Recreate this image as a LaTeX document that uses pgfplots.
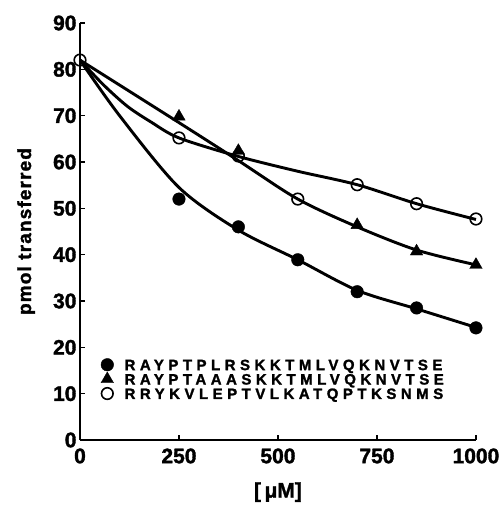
\documentclass[border=0pt]{standalone}
\usepackage{fontspec}
\setmainfont{Liberation Sans}[BoldFeatures={FakeBold=1.6}]
\usepackage{pgfplots}
\pgfplotsset{compat=1.18}
\begin{document}
\begin{tikzpicture}
\begin{axis}[
  scale only axis,
  width=396pt, height=417pt,
  xmin=0, xmax=1000, ymin=0, ymax=90,
  axis x line=bottom, axis y line=left,
  axis line style={-, line width=1.6pt},
  tick style={line width=1.4pt, black},
  tick align=inside, major tick length=5pt,
  xtick={0,250,500,750,1000}, ytick={0,10,...,90},
  ticklabel style={font=\fontsize{21}{21}\selectfont\bfseries},
  xticklabel style={yshift=-5pt},
  /pgf/number format/assume math mode=true,
  /pgf/number format/set thousands separator={},
  xlabel={[\,μM]},
  xlabel style={font=\fontsize{21}{21}\selectfont\bfseries,
    at={(axis description cs:0.5,-0.125)}, anchor=center},
  ylabel={pmol transferred},
  ylabel style={font=\fontsize{19}{19}\selectfont\bfseries\addfontfeature{LetterSpace=6},
    at={(axis description cs:-0.136,0.5)}, anchor=center},
  clip=false,
  legend cell align=left,
  legend style={at={(0.045,0.203)}, anchor=north west, draw=none, fill=none,
    font=\fontsize{15}{15}\selectfont\bfseries\addfontfeature{LetterSpace=30},
    nodes={text height=10.8pt, text depth=0pt, inner ysep=1.8pt},
    /tikz/every odd column/.append style={column sep=9pt}},
]
% fitted curves
\addplot[forget plot, smooth, line width=2.9pt] coordinates {
(0,82) (100,70) (250,54.5) (400,45.3) (550,38.9) (700,32.3) (850,28.3) (1000,24.3)};
\addplot[forget plot, smooth, line width=2.9pt] coordinates {
(0,82) (250,68.5) (400,60.3) (550,52) (700,46) (850,41) (1000,37.8)};
\addplot[forget plot, smooth, line width=2.9pt] coordinates {
(0,82) (60,76.6) (120,72) (180,68.6) (250,65.2) (400,61.2) (550,58) (700,55.1) (850,51) (1000,47.6)};
% data points
\addplot[only marks, mark=*, mark size=6.3pt, black] coordinates {
(250,52) (400,46) (550,38.9) (700,32) (850,28.5) (1000,24.2)};
\addlegendentry{RAYPTPLRSKKTMLVQKNVTSE}
\addplot[only marks, mark=triangle*, mark size=7.2pt, black] coordinates {
(250,69.8) (400,62.4) (700,46.4) (850,40.7) (1000,37.8)};
\addlegendentry{RAYPTAAASKKTMLVQKNVTSE}
\addplot[only marks, mark=o, mark size=5.8pt, line width=1.6pt, black,
  mark options={fill=white}] coordinates {
(0,82) (250,65.2) (400,61.3) (550,52) (700,55.1) (850,51) (1000,47.7)};
\addlegendentry{RRYKVLEPTVLKATQPTKSNMS}
% fixed page frame
\path (rel axis cs:-0.202,-0.1607) rectangle (rel axis cs:1.068,1.0552);
\end{axis}
\end{tikzpicture}
\end{document}
